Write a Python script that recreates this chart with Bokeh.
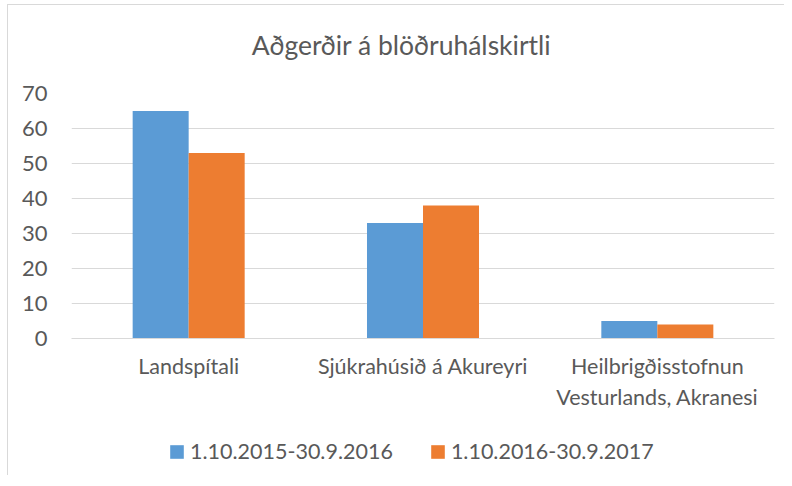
from bokeh.plotting import figure
from bokeh.layouts import column
from bokeh.models import FactorRange, Range1d, Legend, LegendItem, FixedTicker, ColumnDataSource, Label
from bokeh.transform import dodge
from bokeh.embed import file_html
from bokeh.resources import INLINE

title_text = "Aðgerðir á blöðruhálskirtli"
categories = ["Landspítali", "Sjúkrahúsið á Akureyri", "Heilbrigðisstofnun\nVesturlands, Akranesi"]
series_names = ["1.10.2015-30.9.2016", "1.10.2016-30.9.2017"]
values_2015_2016 = [65, 33, 5]
values_2016_2017 = [53, 38, 4]
y_ticks = [0, 10, 20, 30, 40, 50, 60, 70]

FONT = "Lato"
TXT = "#595959"
GRID = "#D9D9D9"
BLUE = "#5B9BD5"
ORANGE = "#ED7D31"
W = 776


def strip(height):
    f = figure(width=W, height=height, x_range=Range1d(0, 1), y_range=Range1d(0, 1),
               x_axis_location=None, y_axis_location=None,
               output_backend="svg", toolbar_location=None,
               min_border_left=0, min_border_right=0, min_border_top=0, min_border_bottom=0)
    f.grid.grid_line_color = None
    f.outline_line_color = None
    return f


# title strip (its frame is aligned with the chart frame by the column layout)
pt = strip(70)
pt.add_layout(Label(x=330, y=31, x_units="screen", y_units="screen", text=title_text,
                    text_font=FONT, text_font_size="26.5px", text_color=TXT,
                    text_align="center", text_baseline="middle"))

# main chart
src = ColumnDataSource(dict(cat=categories, a=values_2015_2016, b=values_2016_2017))

p = figure(width=W, height=340,
           x_range=FactorRange(*categories, range_padding=0),
           y_range=Range1d(0, 70),
           output_backend="svg", toolbar_location=None,
           min_border_left=63, min_border_right=10,
           min_border_top=18, min_border_bottom=77)
p.outline_line_color = None
p.background_fill_color = "white"

bw = 0.239
p.vbar(x=dodge("cat", -bw / 2, range=p.x_range), top="a", width=bw, source=src,
       fill_color=BLUE, line_color=None)
p.vbar(x=dodge("cat", bw / 2, range=p.x_range), top="b", width=bw, source=src,
       fill_color=ORANGE, line_color=None)

p.xgrid.grid_line_color = None
p.ygrid.grid_line_color = GRID
p.ygrid.grid_line_width = 1
p.yaxis.ticker = FixedTicker(ticks=y_ticks)
p.yaxis.axis_line_color = None
p.yaxis.major_tick_line_color = None
p.yaxis.minor_tick_line_color = None
p.yaxis.major_label_text_font = FONT
p.yaxis.major_label_text_font_size = "22px"
p.yaxis.major_label_text_color = TXT
p.yaxis.major_label_standoff = 18

p.xaxis.axis_line_color = GRID
p.xaxis.major_tick_line_color = None
p.xaxis.minor_tick_line_color = None
p.xaxis.major_label_text_font = FONT
p.xaxis.major_label_text_font_size = "21.5px"
p.xaxis.major_label_text_color = TXT
p.xaxis.major_label_standoff = 8

# legend strip: same data, drawn on a range where the bars fall out of view
pl = figure(width=W, height=60, x_range=FactorRange(*categories), y_range=Range1d(1000, 1001),
            x_axis_location=None, y_axis_location=None,
            output_backend="svg", toolbar_location=None,
            min_border_left=0, min_border_right=0, min_border_top=0, min_border_bottom=0)
pl.grid.grid_line_color = None
pl.outline_line_color = None
l1 = pl.vbar(x="cat", top="a", width=0.2, source=src, fill_color=BLUE, line_color=None)
l2 = pl.vbar(x="cat", top="b", width=0.2, source=src, fill_color=ORANGE, line_color=None)
legend = Legend(items=[LegendItem(label=series_names[0], renderers=[l1]),
                       LegendItem(label=series_names[1], renderers=[l2])],
                orientation="horizontal", location=(97, 11),
                glyph_width=17, glyph_height=17, label_standoff=5, spacing=36,
                padding=0, margin=0, border_line_color=None, background_fill_alpha=0,
                label_text_font=FONT, label_text_font_size="21.5px", label_text_color=TXT)
pl.add_layout(legend)

layout = column(pt, p, pl, spacing=0,
                styles={"border-left": "1px solid #D9D9D9", "border-top": "1px solid #D9D9D9",
                        "margin-left": "7px", "margin-top": "4px"})

open("out.html", "w").write(file_html(layout, INLINE))
